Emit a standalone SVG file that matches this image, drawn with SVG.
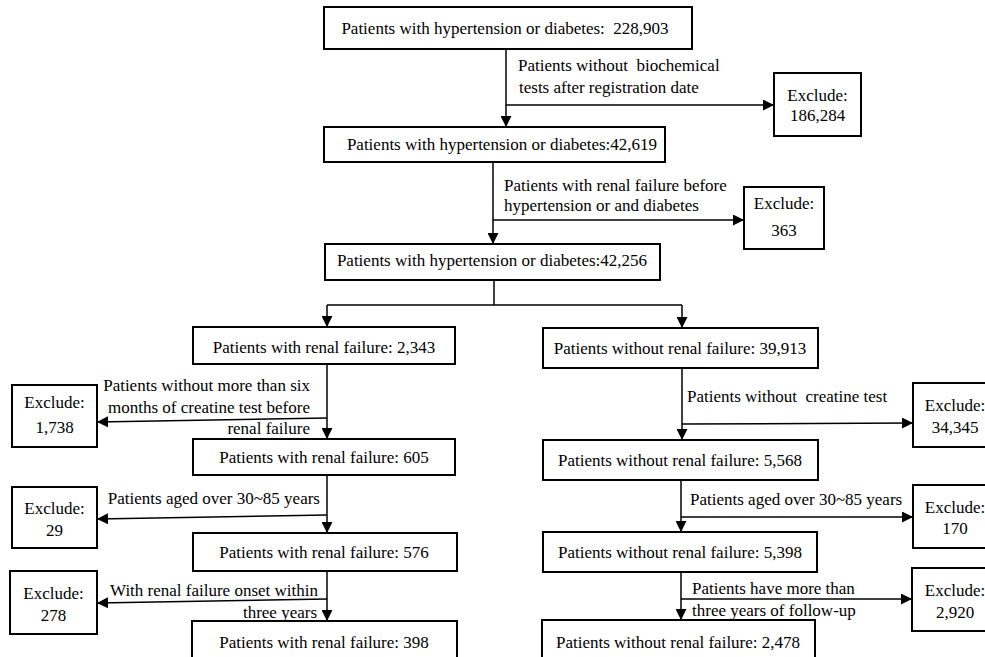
<svg xmlns="http://www.w3.org/2000/svg" width="985" height="657" viewBox="0 0 985 657">
<style>
.box{fill:#fff;stroke:#000;stroke-width:2}
.t{font-family:"Liberation Serif","Times New Roman",serif;font-size:17px;fill:#000;dominant-baseline:central;white-space:pre}
.c{text-anchor:middle}
.e{text-anchor:end}
.ln{fill:none;stroke:#000;stroke-width:1.5}
</style>
<defs>
<marker id="ah" markerUnits="userSpaceOnUse" markerWidth="11" markerHeight="11" refX="10" refY="5" orient="auto" viewBox="0 0 10 10">
<path d="M0,0 L10,5 L0,10 z" fill="#000"/>
</marker>
</defs>
<rect width="985" height="657" fill="#fff"/>
<g id="connectors">
<line class="ln" x1="506" y1="49" x2="506" y2="127" marker-end="url(#ah)"/>
<line class="ln" x1="506" y1="105" x2="774" y2="105" marker-end="url(#ah)"/>
<line class="ln" x1="493" y1="162" x2="493" y2="244" marker-end="url(#ah)"/>
<line class="ln" x1="493" y1="220" x2="744" y2="220" marker-end="url(#ah)"/>
<polyline class="ln" points="494,280 494,305"/>
<polyline class="ln" points="327,305 682,305"/>
<line class="ln" x1="327" y1="305" x2="327" y2="327" marker-end="url(#ah)"/>
<line class="ln" x1="682" y1="305" x2="682" y2="328" marker-end="url(#ah)"/>
<line class="ln" x1="327" y1="364" x2="327" y2="439" marker-end="url(#ah)"/>
<line class="ln" x1="327" y1="418" x2="97" y2="422" marker-end="url(#ah)"/>
<line class="ln" x1="327" y1="475" x2="327" y2="533" marker-end="url(#ah)"/>
<line class="ln" x1="327" y1="515" x2="97" y2="519" marker-end="url(#ah)"/>
<line class="ln" x1="327" y1="571" x2="327" y2="621" marker-end="url(#ah)"/>
<line class="ln" x1="327" y1="599" x2="97" y2="603" marker-end="url(#ah)"/>
<line class="ln" x1="682" y1="368" x2="682" y2="440" marker-end="url(#ah)"/>
<line class="ln" x1="682" y1="424" x2="913" y2="423" marker-end="url(#ah)"/>
<line class="ln" x1="681" y1="480" x2="681" y2="532" marker-end="url(#ah)"/>
<line class="ln" x1="681" y1="517" x2="913" y2="517" marker-end="url(#ah)"/>
<line class="ln" x1="681" y1="572" x2="681" y2="620" marker-end="url(#ah)"/>
<line class="ln" x1="681" y1="599" x2="912" y2="599" marker-end="url(#ah)"/>
</g>
<g id="labels">
<text class="t" x="518" y="65" xml:space="preserve">Patients without  biochemical</text>
<text class="t" x="519" y="87">tests after registration date</text>
<text class="t" x="504" y="185">Patients with renal failure before</text>
<text class="t" x="504" y="205">hypertension or and diabetes</text>
<text class="t e" x="310" y="385">Patients without more than six</text>
<text class="t e" x="310" y="407">months of creatine test before</text>
<text class="t e" x="310" y="428">renal failure</text>
<text class="t" x="687" y="396" xml:space="preserve">Patients without  creatine test</text>
<text class="t e" x="320" y="498">Patients aged over 30~85 years</text>
<text class="t" x="690" y="499">Patients aged over 30~85 years</text>
<text class="t e" x="318" y="590">With renal failure onset within</text>
<text class="t e" x="317" y="612">three years</text>
<text class="t" x="692" y="588">Patients have more than</text>
<text class="t" x="692" y="610">three years of follow-up</text>
</g>
<g id="n1"><rect class="box" x="324" y="7" width="368" height="42"/><text class="t c" x="505" y="28" xml:space="preserve">Patients with hypertension or diabetes:  228,903</text></g>
<g id="n2"><rect class="box" x="324" y="127" width="341" height="35"/><text class="t c" x="502" y="144">Patients with hypertension or diabetes:42,619</text></g>
<g id="x1"><rect class="box" x="774" y="73" width="87" height="63"/><text class="t c" x="817.5" y="95">Exclude:</text><text class="t c" x="817.5" y="115">186,284</text></g>
<g id="n3"><rect class="box" x="325" y="244" width="335" height="36"/><text class="t c" x="492" y="260">Patients with hypertension or diabetes:42,256</text></g>
<g id="x2"><rect class="box" x="744" y="187" width="80" height="62"/><text class="t c" x="784" y="203">Exclude:</text><text class="t c" x="784" y="230">363</text></g>
<g id="l1"><rect class="box" x="193" y="327" width="262" height="37"/><text class="t c" x="324" y="347">Patients with renal failure: 2,343</text></g>
<g id="r1"><rect class="box" x="543" y="328" width="275" height="40"/><text class="t c" x="680" y="348">Patients without renal failure: 39,913</text></g>
<g id="xl1"><rect class="box" x="12" y="385" width="85" height="62"/><text class="t c" x="54.5" y="402">Exclude:</text><text class="t c" x="54.5" y="427">1,738</text></g>
<g id="l2"><rect class="box" x="193" y="439" width="262" height="36"/><text class="t c" x="324" y="457">Patients with renal failure: 605</text></g>
<g id="xr1"><rect class="box" x="913" y="383" width="80" height="64"/><text class="t c" x="955" y="405">Exclude:</text><text class="t c" x="955" y="427">34,345</text></g>
<g id="r2"><rect class="box" x="543" y="440" width="275" height="40"/><text class="t c" x="680" y="460">Patients without renal failure: 5,568</text></g>
<g id="xl2"><rect class="box" x="12" y="487" width="85" height="61"/><text class="t c" x="54.5" y="508">Exclude:</text><text class="t c" x="54.5" y="530">29</text></g>
<g id="l3"><rect class="box" x="193" y="533" width="264" height="38"/><text class="t c" x="324" y="552">Patients with renal failure: 576</text></g>
<g id="xr2"><rect class="box" x="913" y="485" width="80" height="63"/><text class="t c" x="955" y="507">Exclude:</text><text class="t c" x="955" y="528">170</text></g>
<g id="r3"><rect class="box" x="543" y="532" width="274" height="40"/><text class="t c" x="680" y="552">Patients without renal failure: 5,398</text></g>
<g id="xl3"><rect class="box" x="10" y="571" width="87" height="63"/><text class="t c" x="53.5" y="593">Exclude:</text><text class="t c" x="53.5" y="615">278</text></g>
<g id="l4"><rect class="box" x="192" y="621" width="265" height="50"/><text class="t c" x="324" y="642">Patients with renal failure: 398</text></g>
<g id="xr3"><rect class="box" x="912" y="568" width="80" height="63"/><text class="t c" x="955" y="590">Exclude:</text><text class="t c" x="955" y="612">2,920</text></g>
<g id="r4"><rect class="box" x="542" y="620" width="273" height="50"/><text class="t c" x="678" y="642">Patients without renal failure: 2,478</text></g>
</svg>
